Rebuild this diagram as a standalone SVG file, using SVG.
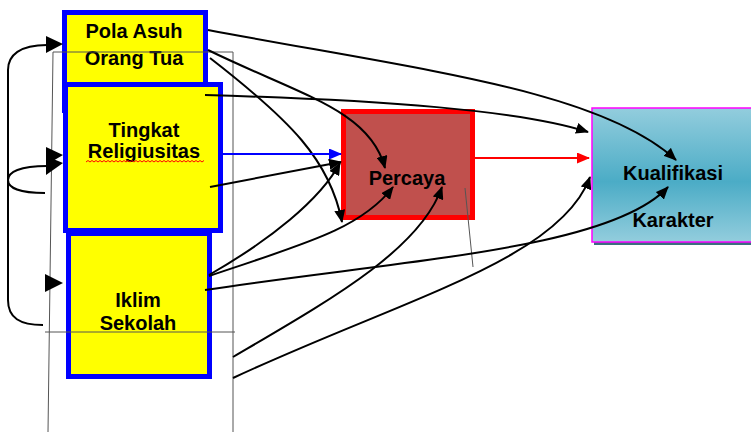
<svg xmlns="http://www.w3.org/2000/svg" width="751" height="432" viewBox="0 0 751 432">
<style>
.box{fill:#FFFF00;stroke:#0000FF;stroke-width:5}
.lbl{font-family:"Liberation Sans",Arial,sans-serif;font-weight:bold;font-size:20px;fill:#000;text-anchor:middle}
.c{fill:none;stroke:#000;stroke-width:2}
.thin{fill:none;stroke:#555;stroke-width:1}
.ah{fill:#000}
</style>
<defs>
<marker id="arr" markerUnits="userSpaceOnUse" markerWidth="13" markerHeight="11" refX="12" refY="5.5" orient="auto" viewBox="0 0 13 11">
<path d="M0,0 L13,5.5 L0,11 z" fill="#000"/>
</marker>
<marker id="arrB" markerUnits="userSpaceOnUse" markerWidth="13" markerHeight="11" refX="12" refY="5.5" orient="auto" viewBox="0 0 13 11">
<path d="M0,0 L13,5.5 L0,11 z" fill="#0000FF"/>
</marker>
<marker id="arrR" markerUnits="userSpaceOnUse" markerWidth="13" markerHeight="11" refX="12" refY="5.5" orient="auto" viewBox="0 0 13 11">
<path d="M0,0 L13,5.5 L0,11 z" fill="#FF0000"/>
</marker>
<linearGradient id="kg" x1="0" y1="0" x2="0" y2="1">
<stop offset="0" stop-color="#93CDDD"/>
<stop offset="0.55" stop-color="#4BACC6"/>
<stop offset="1" stop-color="#93CDDD"/>
</linearGradient>
</defs>
<rect width="751" height="432" fill="#FFFFFF"/>

<g id="node-pola-asuh">
<rect class="box" x="64.5" y="12.5" width="141" height="98"/>
<text class="lbl" x="134" y="38">Pola Asuh</text>
<text class="lbl" x="134" y="65">Orang Tua</text>
</g>

<g id="node-religiusitas">
<rect class="box" x="65.5" y="84.5" width="155" height="146"/>
<text class="lbl" x="144" y="137">Tingkat</text>
<text class="lbl" x="144" y="158">Religiusitas</text>
<path d="M86,162 l2,-1.5 l2,1.5 l2,-1.5 l2,1.5 l2,-1.5 l2,1.5 l2,-1.5 l2,1.5 l2,-1.5 l2,1.5 l2,-1.5 l2,1.5 l2,-1.5 l2,1.5 l2,-1.5 l2,1.5 l2,-1.5 l2,1.5 l2,-1.5 l2,1.5 l2,-1.5 l2,1.5 l2,-1.5 l2,1.5 l2,-1.5 l2,1.5 l2,-1.5 l2,1.5 l2,-1.5 l2,1.5 l2,-1.5 l2,1.5 l2,-1.5 l2,1.5 l2,-1.5 l2,1.5 l2,-1.5 l2,1.5 l2,-1.5 l2,1.5 l2,-1.5 l2,1.5 l2,-1.5 l2,1.5 l2,-1.5 l2,1.5 l2,-1.5 l2,1.5 l2,-1.5 l2,1.5 l2,-1.5 l2,1.5 l2,-1.5 l2,1.5 l2,-1.5 l2,1.5 l2,-1.5 l2,1.5 l2,-1.5" fill="none" stroke="#FF0000" stroke-width="1"/>
</g>

<g id="node-iklim-sekolah">
<rect class="box" x="68.5" y="233.5" width="141" height="143"/>
<text class="lbl" x="138" y="307">Iklim</text>
<text class="lbl" x="138" y="330">Sekolah</text>
</g>

<g id="node-percaya">
<rect x="343.5" y="111.5" width="129" height="106" fill="#C0504D" stroke="#FF0000" stroke-width="5"/>
<text class="lbl" x="407" y="185">Percaya</text>
</g>

<g id="node-kualifikasi">
<rect x="594" y="241" width="170" height="4" fill="#3B6E80"/>
<rect x="592" y="108" width="170" height="134" fill="url(#kg)" stroke="#FF00FF" stroke-width="1.5"/>
<text class="lbl" x="673" y="180">Kualifikasi</text>
<text class="lbl" x="673" y="227">Karakter</text>
</g>

<g id="connectors">
<path class="thin" d="M53,52 L233,52 L233,432"/>
<path class="thin" d="M53,52 L48,432"/>
<path class="thin" d="M45,332 L235,332"/>
<path class="thin" d="M465,188 L473,267"/>

<path class="c" d="M43,325 C20,325 8,318 8,300 L8,70 C8,55 20,45 47,45"/>
<path class="ah" d="M46,36 L63,44 L46,53 z"/>
<path class="c" d="M45,193 C20,193 8,188 8,180 C8,172 20,166 47,166"/>
<path class="ah" d="M46,147 L63,155 L46,165 z"/>
<path class="ah" d="M46,156 L63,163 L46,175 z"/>
<path class="ah" d="M45,274 L63,283 L45,292 z"/>

<path class="c" marker-end="url(#arr)" d="M208,30 C420,70 600,90 676,160"/>
<path class="c" marker-end="url(#arr)" d="M208,50 C300,95 370,110 385,168"/>
<path class="c" marker-end="url(#arr)" d="M210,58 C290,120 330,160 342,222"/>
<path class="c" marker-end="url(#arr)" d="M205,95 C380,100 520,110 588,132"/>
<path d="M222,154 L341,154" fill="none" stroke="#0000FF" stroke-width="2" marker-end="url(#arrB)"/>
<path class="c" marker-end="url(#arr)" d="M210,187 L341,162"/>
<path d="M475,158 L589,158" fill="none" stroke="#FF0000" stroke-width="2" marker-end="url(#arrR)"/>
<path class="c" marker-end="url(#arr)" d="M209,275 C270,240 320,200 340,163"/>
<path class="c" marker-end="url(#arr)" d="M209,276 C300,245 360,230 393,187"/>
<path class="c" marker-end="url(#arr)" d="M205,290 C400,260 610,250 668,187"/>
<path class="c" marker-end="url(#arr)" d="M233,357 C330,300 420,250 442,187"/>
<path class="c" marker-end="url(#arr)" d="M233,378 C400,300 560,260 590,177"/>
</g>
</svg>
